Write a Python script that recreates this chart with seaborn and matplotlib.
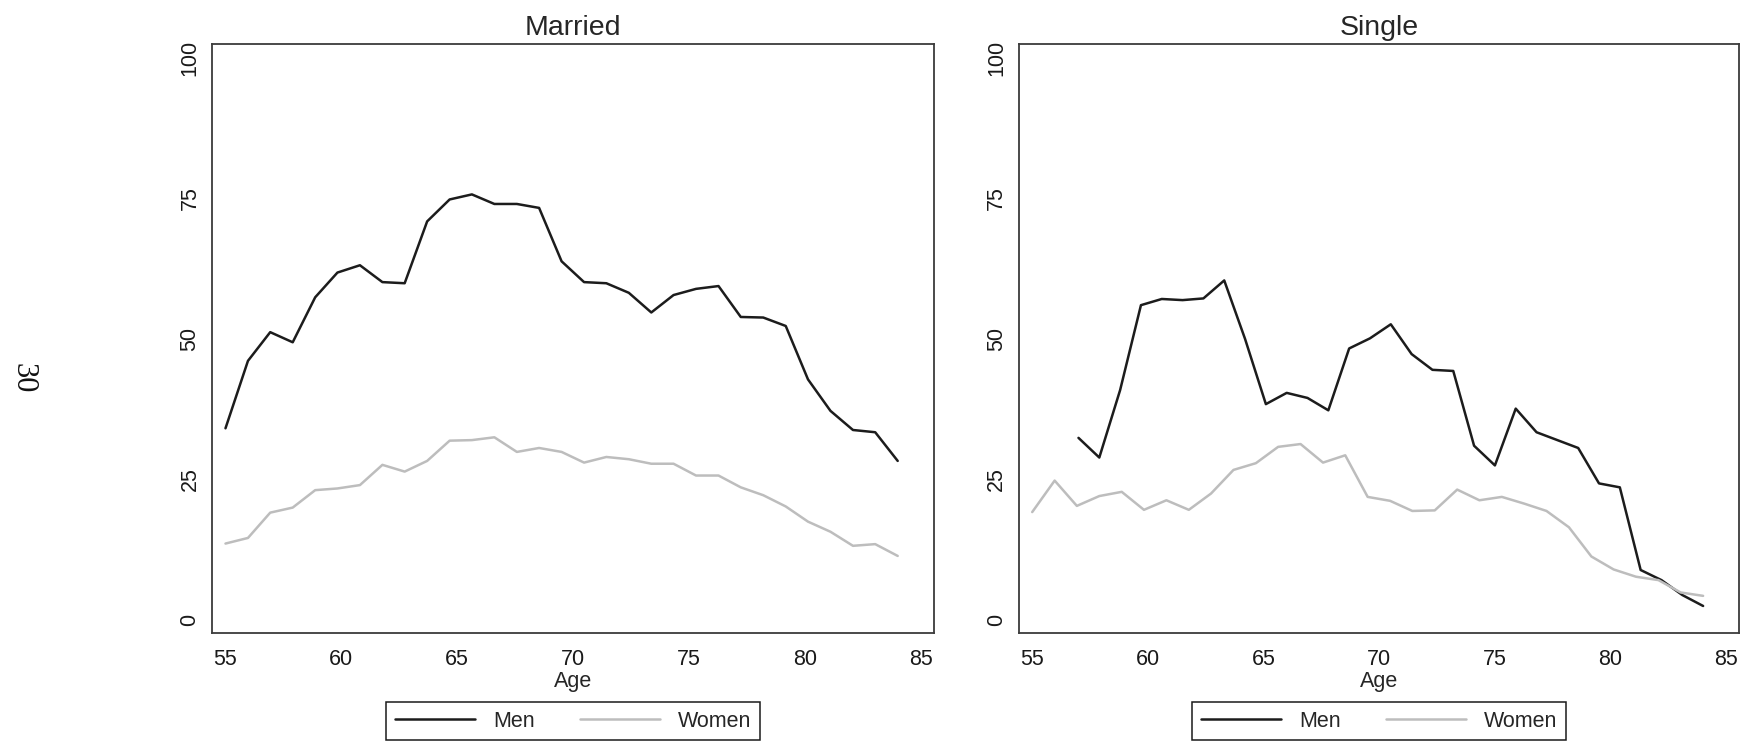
import numpy as np
import pandas as pd
import matplotlib
matplotlib.use("Agg")
import matplotlib.pyplot as plt
from matplotlib.lines import Line2D
import seaborn as sns

# ---- data -------------------------------------------------------------
married_age = [55.00, 55.97, 56.93, 57.90, 58.87, 59.83, 60.80, 61.77, 62.73, 63.70,
               64.67, 65.63, 66.60, 67.57, 68.53, 69.50, 70.47, 71.43, 72.40, 73.37,
               74.33, 75.30, 76.27, 77.23, 78.20, 79.17, 80.13, 81.10, 82.07, 83.03, 84.00]
married_men = [34.1, 46.1, 51.2, 49.4, 57.4, 61.8, 63.1, 60.1, 59.9, 70.9,
               74.8, 75.7, 74.0, 74.0, 73.3, 63.8, 60.1, 59.9, 58.2, 54.7,
               57.8, 58.9, 59.4, 53.9, 53.8, 52.3, 42.8, 37.2, 33.8, 33.4, 28.3]
married_women = [13.6, 14.6, 19.1, 20.0, 23.1, 23.4, 24.0, 27.6, 26.4, 28.3,
                 31.9, 32.0, 32.5, 29.9, 30.6, 29.9, 28.0, 29.0, 28.6, 27.8,
                 27.8, 25.7, 25.7, 23.6, 22.2, 20.2, 17.5, 15.7, 13.2, 13.5, 11.4]

single_men_age = [57.0, 57.9, 58.8, 59.7, 60.6, 61.5, 62.4, 63.3, 64.2, 65.1,
                  66.0, 66.9, 67.8, 68.7, 69.6, 70.5, 71.4, 72.3, 73.2, 74.1,
                  75.0, 75.9, 76.8, 77.7, 78.6, 79.5, 80.4, 81.3, 82.2, 83.1, 84.0]
single_men = [32.4, 28.9, 40.9, 56.0, 57.1, 56.9, 57.2, 60.4, 50.0, 38.4,
              40.4, 39.5, 37.3, 48.3, 50.1, 52.6, 47.3, 44.5, 44.3, 31.0,
              27.5, 37.6, 33.4, 32.0, 30.6, 24.3, 23.6, 8.9, 7.1, 4.45, 2.5]
single_women_age = married_age
single_women = [19.2, 24.8, 20.3, 22.05, 22.8, 19.6, 21.3, 19.6, 22.5, 26.7,
                27.9, 30.8, 31.3, 28.0, 29.3, 21.9, 21.2, 19.4, 19.5, 23.2,
                21.3, 21.9, 20.7, 19.4, 16.5, 11.3, 9.0, 7.7, 7.1, 4.9, 4.3]

panel_titles = ["Married", "Single"]
sex_labels = ["Men", "Women"]
x_ticks = [55, 60, 65, 70, 75, 80, 85]
y_ticks = [0, 25, 50, 75, 100]


def frame(age, values, sex, panel):
    return pd.DataFrame({"Age": age, "value": values, "sex": sex, "panel": panel})


df = pd.concat([
    frame(married_age, married_men, "Men", "Married"),
    frame(married_age, married_women, "Women", "Married"),
    frame(single_men_age, single_men, "Men", "Single"),
    frame(single_women_age, single_women, "Women", "Single"),
], ignore_index=True)

# ---- style ------------------------------------------------------------
sns.set_style("white")
plt.rcParams["font.family"] = ["Liberation Sans", "DejaVu Sans"]

palette = {"Men": "#1c1c1c", "Women": "#bdbdbd"}
spine_col = "#3c3c3c"

fig = plt.figure(figsize=(17.5, 7.43), dpi=100)
ax_pos = [[0.1213, 0.1484, 0.4122, 0.792],
          [0.5823, 0.1484, 0.4114, 0.792]]

for pos, title in zip(ax_pos, panel_titles):
    ax = fig.add_axes(pos)
    sub = df[df["panel"] == title]
    sns.lineplot(data=sub, x="Age", y="value", hue="sex", hue_order=sex_labels,
                 palette=palette, linewidth=1.8, legend=False, ax=ax,
                 estimator=None, sort=False)
    ax.set_xlim(54.43, 85.55)
    ax.set_ylim(-2.26, 102.4)
    ax.set_xticks(x_ticks)
    ax.set_yticks(y_ticks)
    ax.set_xlabel("Age", fontsize=15.5, labelpad=1)
    ax.set_ylabel("")
    ax.set_title(title, fontsize=20.5, pad=6.5)
    ax.tick_params(axis="both", direction="out", length=6.5, width=1.1,
                   color=spine_col, labelsize=15.5, labelcolor="#1a1a1a")
    ax.tick_params(axis="x", pad=5)
    ax.tick_params(axis="y", pad=2)
    for lab in ax.get_yticklabels():
        lab.set_rotation(90)
        lab.set_va("center")
    for sp in ax.spines.values():
        sp.set_visible(True)
        sp.set_color(spine_col)
        sp.set_linewidth(1.3)

    handles = [Line2D([], [], color=palette[s], linewidth=1.8) for s in sex_labels]
    leg = ax.legend(handles, sex_labels, loc="upper center",
                    bbox_to_anchor=(0.5, -0.118), ncol=2, frameon=True,
                    fancybox=False, edgecolor="#1a1a1a", framealpha=1,
                    fontsize=15.5, handlelength=3.72, handletextpad=0.84,
                    columnspacing=2.1, borderpad=0.4, borderaxespad=0)
    leg.get_frame().set_linewidth(1.1)

# page number in the left margin
fig.text(22.5 / 1750, 1 - 378 / 743, "30", rotation=-90, ha="center", va="center",
         fontsize=22, family=["Liberation Serif", "DejaVu Serif"], color="#111111")

fig.savefig("out.png", dpi=100, facecolor="white")
